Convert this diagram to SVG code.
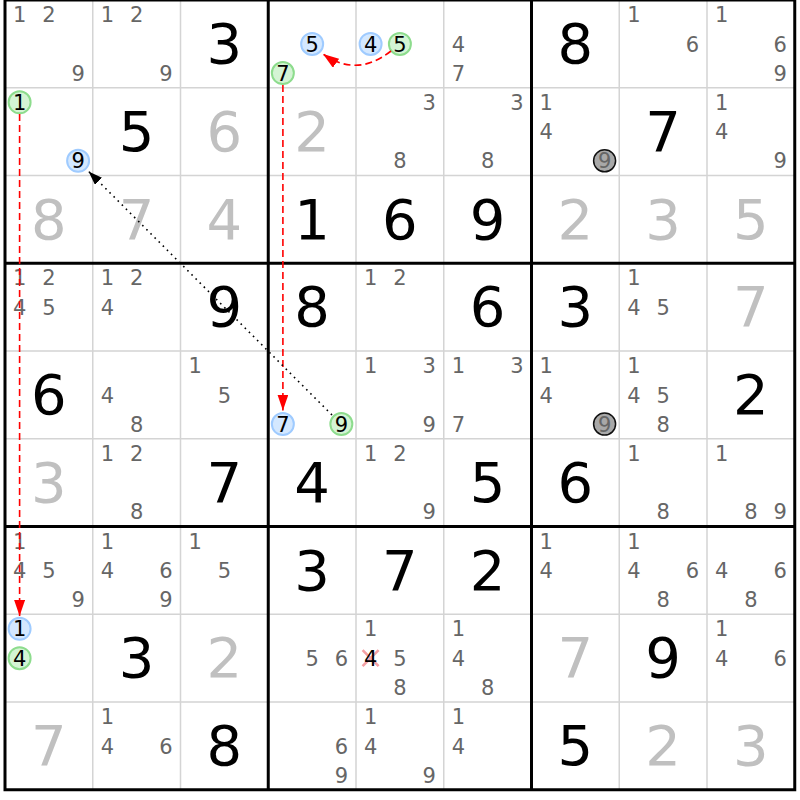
<svg xmlns="http://www.w3.org/2000/svg" width="800" height="800" viewBox="0 0 800 800">
<style>
.g{font-family:"DejaVu Sans",Verdana,sans-serif;font-size:56px;fill:#000;text-anchor:middle}
.s{font-family:"DejaVu Sans",Verdana,sans-serif;font-size:56px;fill:#c0c0c0;text-anchor:middle}
.c{font-family:"DejaVu Sans",Verdana,sans-serif;font-size:21px;fill:#666;text-anchor:middle}
.k{font-family:"DejaVu Sans",Verdana,sans-serif;font-size:21px;fill:#000;text-anchor:middle}
.thin{stroke:#d4d4d4;stroke-width:1.5}
.thick{stroke:#000;stroke-width:3;fill:none}
.cb{fill:#d4e8ff;stroke:#9fcbff;stroke-width:2}
.cg{fill:#d4f4d4;stroke:#8ddc8d;stroke-width:2}
.cx{fill:#a8a8a8;stroke:#111;stroke-width:1.5}
.red{fill:none;stroke:#f00;stroke-width:1.6;stroke-dasharray:7 4}
.dot{fill:none;stroke:#000;stroke-width:1.6;stroke-dasharray:1.6 4.2}
</style>
<defs>
<marker id="ar" viewBox="0 0 16 11" refX="16" refY="5.5" markerWidth="16" markerHeight="11" markerUnits="userSpaceOnUse" orient="auto"><path d="M0,0 L16,5.5 L0,11 z" fill="#f00"/></marker>
<marker id="ak" viewBox="0 0 14 10" refX="14" refY="5" markerWidth="14" markerHeight="10" markerUnits="userSpaceOnUse" orient="auto"><path d="M0,0 L14,5 L0,10 z" fill="#000"/></marker>
</defs>
<rect x="0" y="0" width="800" height="800" fill="#fff"/>
<g id="grid">
<path class="thin" d="M92.75,0V789.75M180.5,0V789.75M356,0V789.75M443.75,0V789.75M619.25,0V789.75M707,0V789.75M5,87.75H794.75M5,175.5H794.75M5,351H794.75M5,438.75H794.75M5,614.25H794.75M5,702H794.75"/>
<path class="thick" d="M268.25,0V789.75M531.5,0V789.75M5,263.25H794.75M5,526.5H794.75"/>
<rect class="thick" x="5" y="0" width="789.75" height="789.75"/>
</g>
<g id="cells">
<!-- row 0 -->
<g id="r0c0" transform="translate(5,0)"><text class="c" x="14.6" y="22.2">1</text><text class="c" x="43.9" y="22.2">2</text><text class="c" x="73.1" y="80.7">9</text></g>
<g id="r0c1" transform="translate(92.75,0)"><text class="c" x="14.6" y="22.2">1</text><text class="c" x="43.9" y="22.2">2</text><text class="c" x="73.1" y="80.7">9</text></g>
<g id="r0c2" transform="translate(180.5,0)"><text class="g" x="43.9" y="63">3</text></g>
<g id="r0c3" transform="translate(268.25,0)"><circle class="cb" cx="43.9" cy="43.9" r="11"/><text class="k" x="43.9" y="51.5">5</text><circle class="cg" cx="14.6" cy="73.1" r="11"/><text class="k" x="14.6" y="80.7">7</text></g>
<g id="r0c4" transform="translate(356,0)"><circle class="cb" cx="14.6" cy="43.9" r="11"/><text class="k" x="14.6" y="51.5">4</text><circle class="cg" cx="43.9" cy="43.9" r="11"/><text class="k" x="43.9" y="51.5">5</text></g>
<g id="r0c5" transform="translate(443.75,0)"><text class="c" x="14.6" y="51.5">4</text><text class="c" x="14.6" y="80.7">7</text></g>
<g id="r0c6" transform="translate(531.5,0)"><text class="g" x="43.9" y="63">8</text></g>
<g id="r0c7" transform="translate(619.25,0)"><text class="c" x="14.6" y="22.2">1</text><text class="c" x="73.1" y="51.5">6</text></g>
<g id="r0c8" transform="translate(707,0)"><text class="c" x="14.6" y="22.2">1</text><text class="c" x="73.1" y="51.5">6</text><text class="c" x="73.1" y="80.7">9</text></g>
<!-- row 1 -->
<g id="r1c0" transform="translate(5,87.75)"><circle class="cg" cx="14.6" cy="14.6" r="11"/><text class="k" x="14.6" y="22.2">1</text><circle class="cb" cx="73.1" cy="73.1" r="11"/><text class="k" x="73.1" y="80.7">9</text></g>
<g id="r1c1" transform="translate(92.75,87.75)"><text class="g" x="43.9" y="63">5</text></g>
<g id="r1c2" transform="translate(180.5,87.75)"><text class="s" x="43.9" y="63">6</text></g>
<g id="r1c3" transform="translate(268.25,87.75)"><text class="s" x="43.9" y="63">2</text></g>
<g id="r1c4" transform="translate(356,87.75)"><text class="c" x="73.1" y="22.2">3</text><text class="c" x="43.9" y="80.7">8</text></g>
<g id="r1c5" transform="translate(443.75,87.75)"><text class="c" x="73.1" y="22.2">3</text><text class="c" x="43.9" y="80.7">8</text></g>
<g id="r1c6" transform="translate(531.5,87.75)"><text class="c" x="14.6" y="22.2">1</text><text class="c" x="14.6" y="51.5">4</text><circle class="cx" cx="73.1" cy="73.1" r="11"/><text class="c" x="73.1" y="80.7">9</text></g>
<g id="r1c7" transform="translate(619.25,87.75)"><text class="g" x="43.9" y="63">7</text></g>
<g id="r1c8" transform="translate(707,87.75)"><text class="c" x="14.6" y="22.2">1</text><text class="c" x="14.6" y="51.5">4</text><text class="c" x="73.1" y="80.7">9</text></g>
<!-- row 2 -->
<g id="r2c0" transform="translate(5,175.5)"><text class="s" x="43.9" y="63">8</text></g>
<g id="r2c1" transform="translate(92.75,175.5)"><text class="s" x="43.9" y="63">7</text></g>
<g id="r2c2" transform="translate(180.5,175.5)"><text class="s" x="43.9" y="63">4</text></g>
<g id="r2c3" transform="translate(268.25,175.5)"><text class="g" x="43.9" y="63">1</text></g>
<g id="r2c4" transform="translate(356,175.5)"><text class="g" x="43.9" y="63">6</text></g>
<g id="r2c5" transform="translate(443.75,175.5)"><text class="g" x="43.9" y="63">9</text></g>
<g id="r2c6" transform="translate(531.5,175.5)"><text class="s" x="43.9" y="63">2</text></g>
<g id="r2c7" transform="translate(619.25,175.5)"><text class="s" x="43.9" y="63">3</text></g>
<g id="r2c8" transform="translate(707,175.5)"><text class="s" x="43.9" y="63">5</text></g>
<!-- row 3 -->
<g id="r3c0" transform="translate(5,263.25)"><text class="c" x="14.6" y="22.2">1</text><text class="c" x="43.9" y="22.2">2</text><text class="c" x="14.6" y="51.5">4</text><text class="c" x="43.9" y="51.5">5</text></g>
<g id="r3c1" transform="translate(92.75,263.25)"><text class="c" x="14.6" y="22.2">1</text><text class="c" x="43.9" y="22.2">2</text><text class="c" x="14.6" y="51.5">4</text></g>
<g id="r3c2" transform="translate(180.5,263.25)"><text class="g" x="43.9" y="63">9</text></g>
<g id="r3c3" transform="translate(268.25,263.25)"><text class="g" x="43.9" y="63">8</text></g>
<g id="r3c4" transform="translate(356,263.25)"><text class="c" x="14.6" y="22.2">1</text><text class="c" x="43.9" y="22.2">2</text></g>
<g id="r3c5" transform="translate(443.75,263.25)"><text class="g" x="43.9" y="63">6</text></g>
<g id="r3c6" transform="translate(531.5,263.25)"><text class="g" x="43.9" y="63">3</text></g>
<g id="r3c7" transform="translate(619.25,263.25)"><text class="c" x="14.6" y="22.2">1</text><text class="c" x="14.6" y="51.5">4</text><text class="c" x="43.9" y="51.5">5</text></g>
<g id="r3c8" transform="translate(707,263.25)"><text class="s" x="43.9" y="63">7</text></g>
<!-- row 4 -->
<g id="r4c0" transform="translate(5,351)"><text class="g" x="43.9" y="63">6</text></g>
<g id="r4c1" transform="translate(92.75,351)"><text class="c" x="14.6" y="51.5">4</text><text class="c" x="43.9" y="80.7">8</text></g>
<g id="r4c2" transform="translate(180.5,351)"><text class="c" x="14.6" y="22.2">1</text><text class="c" x="43.9" y="51.5">5</text></g>
<g id="r4c3" transform="translate(268.25,351)"><circle class="cb" cx="14.6" cy="73.1" r="11"/><text class="k" x="14.6" y="80.7">7</text><circle class="cg" cx="73.1" cy="73.1" r="11"/><text class="k" x="73.1" y="80.7">9</text></g>
<g id="r4c4" transform="translate(356,351)"><text class="c" x="14.6" y="22.2">1</text><text class="c" x="73.1" y="22.2">3</text><text class="c" x="73.1" y="80.7">9</text></g>
<g id="r4c5" transform="translate(443.75,351)"><text class="c" x="14.6" y="22.2">1</text><text class="c" x="73.1" y="22.2">3</text><text class="c" x="14.6" y="80.7">7</text></g>
<g id="r4c6" transform="translate(531.5,351)"><text class="c" x="14.6" y="22.2">1</text><text class="c" x="14.6" y="51.5">4</text><circle class="cx" cx="73.1" cy="73.1" r="11"/><text class="c" x="73.1" y="80.7">9</text></g>
<g id="r4c7" transform="translate(619.25,351)"><text class="c" x="14.6" y="22.2">1</text><text class="c" x="14.6" y="51.5">4</text><text class="c" x="43.9" y="51.5">5</text><text class="c" x="43.9" y="80.7">8</text></g>
<g id="r4c8" transform="translate(707,351)"><text class="g" x="43.9" y="63">2</text></g>
<!-- row 5 -->
<g id="r5c0" transform="translate(5,438.75)"><text class="s" x="43.9" y="63">3</text></g>
<g id="r5c1" transform="translate(92.75,438.75)"><text class="c" x="14.6" y="22.2">1</text><text class="c" x="43.9" y="22.2">2</text><text class="c" x="43.9" y="80.7">8</text></g>
<g id="r5c2" transform="translate(180.5,438.75)"><text class="g" x="43.9" y="63">7</text></g>
<g id="r5c3" transform="translate(268.25,438.75)"><text class="g" x="43.9" y="63">4</text></g>
<g id="r5c4" transform="translate(356,438.75)"><text class="c" x="14.6" y="22.2">1</text><text class="c" x="43.9" y="22.2">2</text><text class="c" x="73.1" y="80.7">9</text></g>
<g id="r5c5" transform="translate(443.75,438.75)"><text class="g" x="43.9" y="63">5</text></g>
<g id="r5c6" transform="translate(531.5,438.75)"><text class="g" x="43.9" y="63">6</text></g>
<g id="r5c7" transform="translate(619.25,438.75)"><text class="c" x="14.6" y="22.2">1</text><text class="c" x="43.9" y="80.7">8</text></g>
<g id="r5c8" transform="translate(707,438.75)"><text class="c" x="14.6" y="22.2">1</text><text class="c" x="43.9" y="80.7">8</text><text class="c" x="73.1" y="80.7">9</text></g>
<!-- row 6 -->
<g id="r6c0" transform="translate(5,526.5)"><text class="c" x="14.6" y="22.2">1</text><text class="c" x="14.6" y="51.5">4</text><text class="c" x="43.9" y="51.5">5</text><text class="c" x="73.1" y="80.7">9</text></g>
<g id="r6c1" transform="translate(92.75,526.5)"><text class="c" x="14.6" y="22.2">1</text><text class="c" x="14.6" y="51.5">4</text><text class="c" x="73.1" y="51.5">6</text><text class="c" x="73.1" y="80.7">9</text></g>
<g id="r6c2" transform="translate(180.5,526.5)"><text class="c" x="14.6" y="22.2">1</text><text class="c" x="43.9" y="51.5">5</text></g>
<g id="r6c3" transform="translate(268.25,526.5)"><text class="g" x="43.9" y="63">3</text></g>
<g id="r6c4" transform="translate(356,526.5)"><text class="g" x="43.9" y="63">7</text></g>
<g id="r6c5" transform="translate(443.75,526.5)"><text class="g" x="43.9" y="63">2</text></g>
<g id="r6c6" transform="translate(531.5,526.5)"><text class="c" x="14.6" y="22.2">1</text><text class="c" x="14.6" y="51.5">4</text></g>
<g id="r6c7" transform="translate(619.25,526.5)"><text class="c" x="14.6" y="22.2">1</text><text class="c" x="14.6" y="51.5">4</text><text class="c" x="73.1" y="51.5">6</text><text class="c" x="43.9" y="80.7">8</text></g>
<g id="r6c8" transform="translate(707,526.5)"><text class="c" x="14.6" y="51.5">4</text><text class="c" x="73.1" y="51.5">6</text><text class="c" x="43.9" y="80.7">8</text></g>
<!-- row 7 -->
<g id="r7c0" transform="translate(5,614.25)"><circle class="cb" cx="14.6" cy="14.6" r="11"/><text class="k" x="14.6" y="22.2">1</text><circle class="cg" cx="14.6" cy="43.9" r="11"/><text class="k" x="14.6" y="51.5">4</text></g>
<g id="r7c1" transform="translate(92.75,614.25)"><text class="g" x="43.9" y="63">3</text></g>
<g id="r7c2" transform="translate(180.5,614.25)"><text class="s" x="43.9" y="63">2</text></g>
<g id="r7c3" transform="translate(268.25,614.25)"><text class="c" x="43.9" y="51.5">5</text><text class="c" x="73.1" y="51.5">6</text></g>
<g id="r7c4" transform="translate(356,614.25)"><text class="c" x="14.6" y="22.2">1</text><path d="M6.6,35.9L22.6,51.9M22.6,35.9L6.6,51.9" stroke="#f4a0a4" stroke-width="2.6"/><text class="k" x="14.6" y="51.5">4</text><text class="c" x="43.9" y="51.5">5</text><text class="c" x="43.9" y="80.7">8</text></g>
<g id="r7c5" transform="translate(443.75,614.25)"><text class="c" x="14.6" y="22.2">1</text><text class="c" x="14.6" y="51.5">4</text><text class="c" x="43.9" y="80.7">8</text></g>
<g id="r7c6" transform="translate(531.5,614.25)"><text class="s" x="43.9" y="63">7</text></g>
<g id="r7c7" transform="translate(619.25,614.25)"><text class="g" x="43.9" y="63">9</text></g>
<g id="r7c8" transform="translate(707,614.25)"><text class="c" x="14.6" y="22.2">1</text><text class="c" x="14.6" y="51.5">4</text><text class="c" x="73.1" y="51.5">6</text></g>
<!-- row 8 -->
<g id="r8c0" transform="translate(5,702)"><text class="s" x="43.9" y="63">7</text></g>
<g id="r8c1" transform="translate(92.75,702)"><text class="c" x="14.6" y="22.2">1</text><text class="c" x="14.6" y="51.5">4</text><text class="c" x="73.1" y="51.5">6</text></g>
<g id="r8c2" transform="translate(180.5,702)"><text class="g" x="43.9" y="63">8</text></g>
<g id="r8c3" transform="translate(268.25,702)"><text class="c" x="73.1" y="51.5">6</text><text class="c" x="73.1" y="80.7">9</text></g>
<g id="r8c4" transform="translate(356,702)"><text class="c" x="14.6" y="22.2">1</text><text class="c" x="14.6" y="51.5">4</text><text class="c" x="73.1" y="80.7">9</text></g>
<g id="r8c5" transform="translate(443.75,702)"><text class="c" x="14.6" y="22.2">1</text><text class="c" x="14.6" y="51.5">4</text></g>
<g id="r8c6" transform="translate(531.5,702)"><text class="g" x="43.9" y="63">5</text></g>
<g id="r8c7" transform="translate(619.25,702)"><text class="s" x="43.9" y="63">2</text></g>
<g id="r8c8" transform="translate(707,702)"><text class="s" x="43.9" y="63">3</text></g>
</g>
<g id="connectors">
<path class="red" d="M391,51 Q357,78 323,54" marker-end="url(#ar)"/>
<path class="red" d="M282.9,85 V410.5" marker-end="url(#ar)"/>
<path class="red" d="M19.6,114 V616" marker-end="url(#ar)"/>
<path class="dot" d="M332,415 L88.6,171.4" marker-end="url(#ak)"/>
</g>
</svg>
